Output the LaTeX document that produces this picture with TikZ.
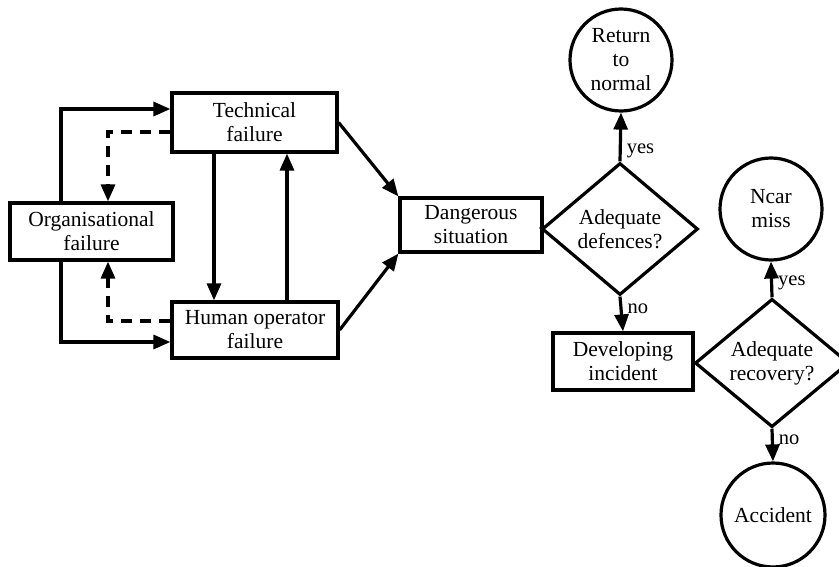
\documentclass[tikz,border=0pt]{standalone}
\usepackage{fontspec}
\setmainfont{Liberation Serif}
\usetikzlibrary{arrows.meta,shapes.geometric}
\begin{document}
\begin{tikzpicture}[x=1pt,y=-1pt,
  txt/.style={font=\fontsize{21.5}{24}\selectfont, align=center},
  box/.style={txt, draw, line width=3.2pt, rectangle, inner sep=0pt},
  dia/.style={txt, draw, line width=3.2pt, diamond, inner sep=0pt},
  circ/.style={txt, draw, line width=3.2pt, circle, inner sep=0pt},
  conn/.style={line width=3.2pt},
  arr/.style={conn, -{Triangle[length=17pt,width=14pt]}},
  dsh/.style={arr, dash pattern=on 11pt off 8pt},
  lab/.style={font=\fontsize{20.5}{22}\selectfont, anchor=west, inner sep=0pt, xshift=5pt}]
\useasboundingbox (0,0) rectangle (839,567);

% nodes
\node[box, minimum width=165pt, minimum height=59pt] (tech) at (254.5,122.5) {Technical\\failure};
\node[box, minimum width=163pt, minimum height=57pt] (org) at (91.5,231.5) {Organisational\\failure};
\node[box, minimum width=166pt, minimum height=56pt] (hum) at (255,330) {Human operator\\failure};
\node[box, minimum width=142pt, minimum height=54pt] (dang) at (471,225) {Dangerous\\situation};
\node[dia, minimum width=156pt, minimum height=132pt] (def) at (620,229) {Adequate\\defences?};
\node[circ, minimum size=102pt] (ret) at (621,60) {Return\\to\\normal};
\node[box, minimum width=140pt, minimum height=57pt] (dev) at (623,361.5) {Developing\\incident};
\node[dia, minimum width=154pt, minimum height=126pt] (rec) at (772,363) {Adequate\\recovery?};
\node[circ, minimum size=102pt] (near) at (771,209) {Ncar\\miss};
\node[circ, minimum size=104pt] (acc) at (773,515) {Accident};

% left loop
\draw[arr] ([xshift=-30.5pt]org.north) |- ([yshift=13.5pt]tech.west);
\draw[arr] ([xshift=-30.5pt]org.south) |- ([yshift=-12pt]hum.west);
\draw[dsh] ([yshift=-9.5pt]tech.west) -| ([xshift=16.5pt]org.north);
\draw[dsh] ([yshift=9pt]hum.west) -| ([xshift=16.5pt]org.south);
\draw[arr] ([xshift=-40.5pt]tech.south) -- ([xshift=-41pt]hum.north);
\draw[arr] ([xshift=32pt]hum.north) -- ([xshift=32.5pt]tech.south);

% to dangerous situation
\draw[arr] (tech.east) -- (dang.north west);
\draw[arr] (hum.east) -- (dang.south west);
\draw[conn] (dang.east) -- (def.west);

% decisions
\draw[arr] (def.north) -- node[lab, pos=0.22] (y1) {yes} (ret.south);
\draw[arr] (def.south) -- node[lab, pos=0.35] (n1) {no} (dev.north);
\draw[conn] (dev.east) -- (rec.west);
\draw[arr] (rec.north) -- node[lab, pos=0.4] (y2) {yes} (near.south);
\draw[arr] (rec.south) -- node[lab, pos=0.35] (n2) {no} (acc.north);
\end{tikzpicture}
\end{document}
